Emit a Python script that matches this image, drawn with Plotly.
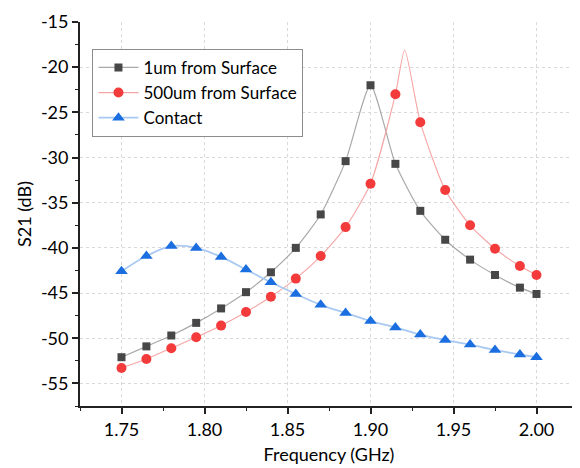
import plotly.graph_objects as go

freq = [1.75, 1.765, 1.78, 1.795, 1.81, 1.825, 1.84, 1.855, 1.87, 1.885,
        1.90, 1.915, 1.93, 1.945, 1.96, 1.975, 1.99, 2.00]

s21_1um = [-52.1, -50.9, -49.7, -48.3, -46.7, -44.9, -42.7, -40.0, -36.3, -30.4,
           -22.0, -30.7, -35.9, -39.1, -41.3, -43.0, -44.4, -45.1]

s21_500um = [-53.3, -52.3, -51.1, -49.9, -48.6, -47.1, -45.4, -43.4, -40.9, -37.7,
             -32.9, -23.0, -26.1, -33.6, -37.5, -40.1, -42.0, -43.0]

s21_contact = [-42.6, -40.9, -39.8, -40.0, -41.0, -42.4, -43.8, -45.1, -46.3, -47.2,
               -48.1, -48.8, -49.6, -50.2, -50.7, -51.3, -51.8, -52.1]

# red curve peak
red_peak_x = [1.9206]
red_peak_y = [-18.1]

x_ticks = [1.75, 1.80, 1.85, 1.90, 1.95, 2.00]
x_ticklabels = ["1.75", "1.80", "1.85", "1.90", "1.95", "2.00"]
y_ticks = [-15, -20, -25, -30, -35, -40, -45, -50, -55]
y_ticklabels = ["-15", "-20", "-25", "-30", "-35", "-40", "-45", "-50", "-55"]

names = ["1um from Surface", "500um from Surface", "Contact"]

FONT = "Lato"
black_m, black_l = "#474747", "#a9a9a9"
red_m, red_l = "#f43b3b", "#f6a5a5"
blue_m, blue_l = "#1a6ee0", "#a9c9f2"

red_line_x = freq[:12] + red_peak_x + freq[12:]
red_line_y = s21_500um[:12] + red_peak_y + s21_500um[12:]

fig = go.Figure()

fig.add_trace(go.Scatter(
    x=freq, y=s21_1um, mode="lines+markers", name=names[0],
    line=dict(color=black_l, width=1.2, shape="spline", smoothing=0.6),
    marker=dict(symbol="square", size=8, color=black_m),
))

fig.add_trace(go.Scatter(
    x=red_line_x, y=red_line_y, mode="lines", showlegend=False,
    line=dict(color=red_l, width=1.1, shape="spline", smoothing=0.6),
    hoverinfo="skip",
))
fig.add_trace(go.Scatter(
    x=freq, y=s21_500um, mode="markers", showlegend=False,
    marker=dict(symbol="circle", size=10, color=red_m),
))
fig.add_trace(go.Scatter(
    x=[None], y=[None], mode="lines+markers", name=names[1],
    line=dict(color=red_l, width=1.2),
    marker=dict(symbol="circle", size=10, color=red_m),
))

fig.add_trace(go.Scatter(
    x=freq, y=s21_contact, mode="lines+markers", name=names[2],
    line=dict(color=blue_l, width=1.8, shape="spline", smoothing=1.0),
    marker=dict(symbol="triangle-up", size=11, color=blue_m),
))

axis_common = dict(
    showline=True, linecolor="#222222", linewidth=1.8,
    ticks="outside", ticklen=6, tickwidth=1.5, tickcolor="#222222",
    showgrid=True, gridcolor="#d9d9d9", griddash="dot", gridwidth=1,
    zeroline=False, mirror=False, ticklabeloverflow="allow",
    tickfont=dict(family=FONT, size=18, color="black"),
    minor=dict(ticks="outside", ticklen=3.5, tickwidth=1.2, tickcolor="#222222", showgrid=False),
)

fig.update_xaxes(
    range=[1.725, 2.025], tickmode="array",
    tickvals=x_ticks, ticktext=x_ticklabels,
    title=dict(text="Frequency (GHz)", font=dict(family=FONT, size=18, color="black"), standoff=10),
    **axis_common,
)
fig.update_xaxes(minor=dict(tickvals=[1.725, 1.775, 1.825, 1.875, 1.925, 1.975, 2.025]))

fig.update_yaxes(
    range=[-57.5, -15], tickmode="array",
    tickvals=y_ticks, ticktext=y_ticklabels,
    title=dict(text="S21 (dB)", font=dict(family=FONT, size=18, color="black"), standoff=5),
    **axis_common,
)
fig.update_yaxes(minor=dict(tickvals=[-17.5, -22.5, -27.5, -32.5, -37.5, -42.5, -47.5, -52.5, -57.5]))

fig.update_layout(
    width=572, height=460,
    margin=dict(l=72, r=2, t=9, b=62),
    paper_bgcolor="white", plot_bgcolor="white",
    font=dict(family=FONT, color="black"),
    legend=dict(
        x=0.025, y=0.93, xanchor="left", yanchor="top",
        bgcolor="white", bordercolor="#8c8c8c", borderwidth=1,
        font=dict(family=FONT, size=17, color="black"),
        itemwidth=40, tracegroupgap=0,
    ),
    showlegend=True,
)

fig.write_html("out.html")
